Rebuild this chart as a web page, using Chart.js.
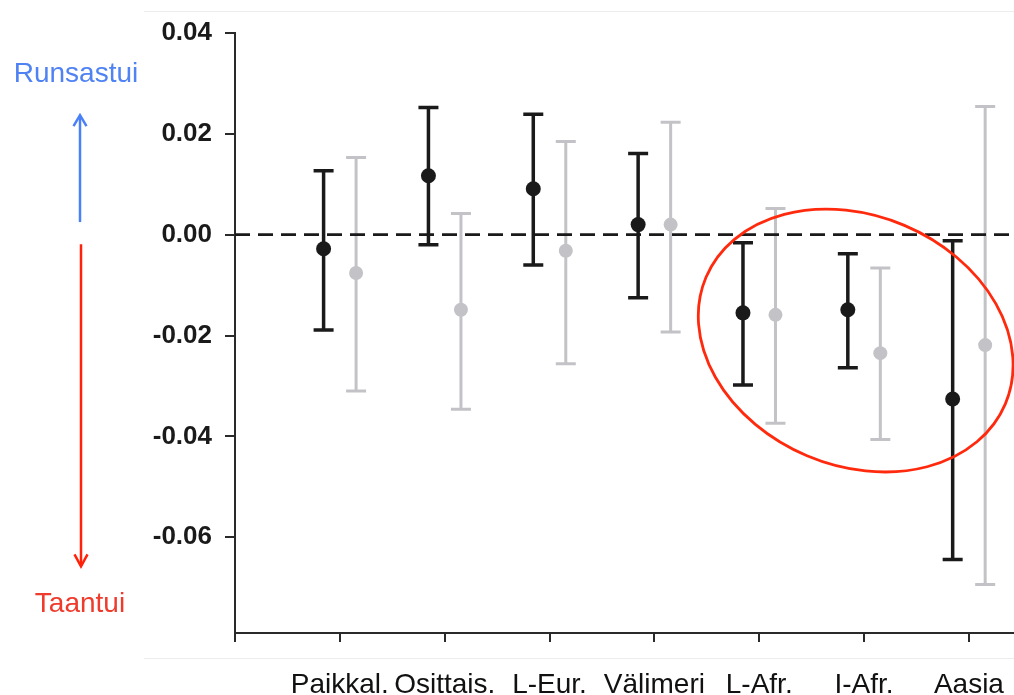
<!DOCTYPE html>
<html><head><meta charset="utf-8">
<script src="https://cdn.jsdelivr.net/npm/chart.js@4/dist/chart.umd.min.js"></script>
<style>html,body{margin:0;padding:0;background:#fff;overflow:hidden}#wrap{width:1014px;height:695px;position:relative}canvas{display:block}</style>
</head><body><div id="wrap"><canvas id="c" width="1014" height="695"></canvas></div>
<script>
const categories = ['Paikkal.', 'Osittais.', 'L-Eur.', 'Välimeri', 'L-Afr.', 'I-Afr.', 'Aasia'];
const blackMean = [-0.0028, 0.0117, 0.0091, 0.0020, -0.0155, -0.0149, -0.0326];
const blackLow  = [-0.0189, -0.0020, -0.0060, -0.0125, -0.0298, -0.0264, -0.0644];
const blackHigh = [0.0127, 0.0252, 0.0239, 0.0161, -0.0016, -0.0038, -0.0012];
const greyMean  = [-0.0076, -0.0149, -0.0032, 0.0020, -0.0159, -0.0235, -0.0219];
const greyLow   = [-0.0310, -0.0346, -0.0256, -0.0193, -0.0374, -0.0406, -0.0694];
const greyHigh  = [0.0153, 0.0042, 0.0185, 0.0223, 0.0052, -0.0066, 0.0254];
const yTicks = [0.04, 0.02, 0.00, -0.02, -0.04, -0.06];
const upLabel = 'Runsastui';
const downLabel = 'Taantui';

const FONT = '"Liberation Sans", Arial, Helvetica, sans-serif';
const X_MAX = 7.43, Y_MIN = -0.079, Y_MAX = 0.04;
const SHIFT = 0.155;
const BLACK = '#1a1a1a', GREY = '#c3c3c7';

// ellipse annotation (data units for center and radii, rotation in radians)
const ellipse = { x: 5.92, y: -0.021, rx: 1.55, ry: 0.0248, rot: 0.40 };

const errorBars = {
  id: 'errorBars',
  beforeDatasetsDraw(chart) {
    const { ctx, scales: { x, y } } = chart;
    const groups = [
      { mean: blackMean, low: blackLow, high: blackHigh, off: -SHIFT, color: BLACK, lw: 3.5 },
      { mean: greyMean, low: greyLow, high: greyHigh, off: SHIFT, color: GREY, lw: 3 }
    ];
    ctx.save();
    groups.forEach(g => {
      ctx.strokeStyle = g.color;
      ctx.lineWidth = g.lw;
      ctx.lineCap = 'butt';
      categories.forEach((c, i) => {
        const px = x.getPixelForValue(i + 1 + g.off);
        const yl = y.getPixelForValue(g.low[i]);
        const yh = y.getPixelForValue(g.high[i]);
        ctx.beginPath();
        ctx.moveTo(px, yl); ctx.lineTo(px, yh);
        ctx.moveTo(px - 10, yl); ctx.lineTo(px + 10, yl);
        ctx.moveTo(px - 10, yh); ctx.lineTo(px + 10, yh);
        ctx.stroke();
      });
    });
    ctx.restore();
  }
};

const overlay = {
  id: 'overlay',
  afterDatasetsDraw(chart) {
    const { ctx, scales: { x, y } } = chart;
    const cx = x.getPixelForValue(ellipse.x), cy = y.getPixelForValue(ellipse.y);
    const a = Math.abs(x.getPixelForValue(ellipse.x + ellipse.rx) - cx);
    const b = Math.abs(y.getPixelForValue(ellipse.y + ellipse.ry) - cy);
    ctx.save();
    ctx.strokeStyle = '#ff2a0e';
    ctx.lineWidth = 2.8;
    ctx.beginPath();
    ctx.ellipse(cx, cy, a, b, ellipse.rot, 0, Math.PI * 2);
    ctx.stroke();
    ctx.restore();
  },
  afterDraw(chart) {
    const { ctx, scales: { y } } = chart;
    ctx.save();
    // faint frame lines
    ctx.strokeStyle = '#ededed'; ctx.lineWidth = 1;
    ctx.beginPath(); ctx.moveTo(144, 11.5); ctx.lineTo(1014, 11.5); ctx.stroke();
    ctx.beginPath(); ctx.moveTo(144, 658.5); ctx.lineTo(1014, 658.5); ctx.stroke();
    // up arrow
    const ub = y.getPixelForValue(0.0025), ut = y.getPixelForValue(0.0237);
    ctx.strokeStyle = '#4a80f8'; ctx.lineWidth = 2.5;
    ctx.beginPath(); ctx.moveTo(80, ub); ctx.lineTo(80, ut + 1); ctx.stroke();
    ctx.beginPath(); ctx.moveTo(73.5, ut + 11); ctx.lineTo(80, ut); ctx.lineTo(86.5, ut + 11); ctx.stroke();
    // down arrow
    const dt = y.getPixelForValue(-0.0019), db = y.getPixelForValue(-0.0658);
    ctx.strokeStyle = '#ff2208';
    ctx.beginPath(); ctx.moveTo(81, dt); ctx.lineTo(81, db - 1); ctx.stroke();
    ctx.beginPath(); ctx.moveTo(74.5, db - 12); ctx.lineTo(81, db); ctx.lineTo(87.5, db - 12); ctx.stroke();
    // texts
    ctx.font = '28px ' + FONT;
    ctx.textAlign = 'center'; ctx.textBaseline = 'alphabetic';
    ctx.fillStyle = '#4f82f3';
    ctx.fillText(upLabel, 76, y.getPixelForValue(0.0302));
    ctx.fillStyle = '#ef3b2c';
    ctx.fillText(downLabel, 80, y.getPixelForValue(-0.0748));
    ctx.restore();
  }
};

new Chart(document.getElementById('c'), {
  type: 'scatter',
  data: {
    datasets: [
      {
        type: 'scatter', label: 'a', order: 0,
        data: categories.map((c, i) => ({ x: i + 1 - SHIFT, y: blackMean[i] })),
        backgroundColor: BLACK, borderWidth: 0, pointRadius: 7.5, pointHoverRadius: 7.5
      },
      {
        type: 'scatter', label: 'b', order: 1,
        data: categories.map((c, i) => ({ x: i + 1 + SHIFT, y: greyMean[i] })),
        backgroundColor: GREY, borderWidth: 0, pointRadius: 7, pointHoverRadius: 7
      },
      {
        type: 'line', label: 'zero', order: 2,
        data: [{ x: 0, y: 0 }, { x: X_MAX, y: 0 }],
        borderColor: BLACK, borderWidth: 2.8, borderDash: [15, 8], pointRadius: 0, fill: false
      }
    ]
  },
  options: {
    responsive: false, animation: false, devicePixelRatio: 1,
    layout: { autoPadding: false, padding: { top: 33, left: 0, right: 0, bottom: 0 } },
    plugins: { legend: { display: false }, tooltip: { enabled: false } },
    scales: {
      x: {
        type: 'linear', min: 0, max: X_MAX,
        afterBuildTicks(s) { s.ticks = [0, 1, 2, 3, 4, 5, 6, 7].map(v => ({ value: v })); },
        afterFit(s) { s.height = 62; s.paddingLeft = 0; s.paddingRight = 0; },
        grid: { drawOnChartArea: false, drawTicks: true, tickLength: 9, color: '#2a2a2a', lineWidth: 2 },
        border: { display: true, color: '#2a2a2a', width: 2 },
        ticks: {
          padding: 26, maxRotation: 0, autoSkip: false, color: '#111',
          font: { family: FONT, size: 28 },
          callback: v => (v >= 1 && v <= categories.length && Number.isInteger(v)) ? categories[v - 1] : ''
        }
      },
      y: {
        type: 'linear', min: Y_MIN, max: Y_MAX,
        afterBuildTicks(s) { s.ticks = yTicks.map(v => ({ value: v })); },
        afterFit(s) { s.width = 235; s.paddingTop = 0; s.paddingBottom = 0; },
        grid: { drawOnChartArea: false, drawTicks: true, tickLength: 10, color: '#2a2a2a', lineWidth: 2 },
        border: { display: true, color: '#2a2a2a', width: 2 },
        ticks: {
          padding: 13, color: '#1a1a1a',
          font: { family: FONT, size: 26, weight: 'bold' },
          callback: v => (Math.abs(v) < 1e-9 ? 0 : v).toFixed(2)
        }
      }
    }
  },
  plugins: [errorBars, overlay]
});
</script></body></html>
